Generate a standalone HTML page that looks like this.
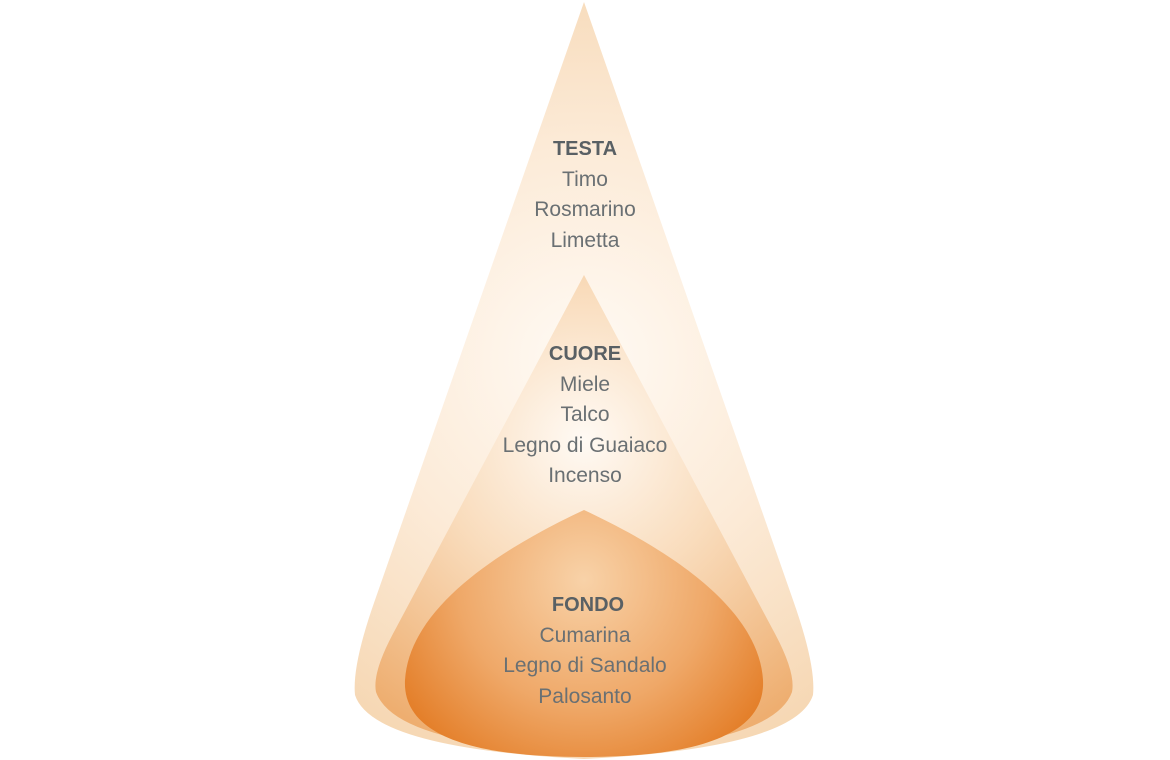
<!DOCTYPE html>
<html><head><meta charset="utf-8"><style>
html,body{margin:0;padding:0;background:#fff;}
svg{display:block;}
text{font-family:"Liberation Sans","DejaVu Sans",sans-serif;font-size:21px;fill:#6a7073;text-anchor:middle;}
.b{font-weight:bold;fill:#596064;font-size:20px;}
</style></head><body>
<svg width="1170" height="760" viewBox="0 0 1170 760" xmlns="http://www.w3.org/2000/svg">
<defs>
<radialGradient id="g1" cx="584" cy="360" r="420" gradientUnits="userSpaceOnUse">
<stop offset="0" stop-color="#fffaf4"/><stop offset="0.5" stop-color="#fcebd8"/><stop offset="1" stop-color="#f6d7b3"/>
</radialGradient>
<radialGradient id="g2" cx="584" cy="440" r="330" gradientUnits="userSpaceOnUse">
<stop offset="0" stop-color="#fffaf4"/><stop offset="0.45" stop-color="#f9dcbc"/><stop offset="1" stop-color="#eeae70"/>
</radialGradient>
<radialGradient id="g3" cx="584" cy="580" r="230" gradientUnits="userSpaceOnUse">
<stop offset="0" stop-color="#f8d2a8"/><stop offset="0.55" stop-color="#efa868"/><stop offset="1" stop-color="#e2781f"/>
</radialGradient>
</defs>
<path d="M584,2 L375,600 Q352,665 355,695 Q372,748 584,759 Q796,748 813,695 Q816,665 793,600 Z" fill="url(#g1)"/>
<path d="M584,275 L395,630 Q372,672 376,692 Q395,745 584,753 Q773,745 792,692 Q796,672 773,630 Z" fill="url(#g2)"/>
<path d="M584,510 C520,540 410,600 405,680 C402,738 480,757 584,757 C688,757 766,738 763,680 C758,600 648,540 584,510 Z" fill="url(#g3)"/>
<text class="b" x="585" y="155">TESTA</text>
<text x="585" y="186">Timo</text>
<text x="585" y="216">Rosmarino</text>
<text x="585" y="247">Limetta</text>
<text class="b" x="585" y="360">CUORE</text>
<text x="585" y="391">Miele</text>
<text x="585" y="421">Talco</text>
<text x="585" y="452">Legno di Guaiaco</text>
<text x="585" y="482">Incenso</text>
<text class="b" x="588" y="611">FONDO</text>
<text x="585" y="642">Cumarina</text>
<text x="585" y="672">Legno di Sandalo</text>
<text x="585" y="703">Palosanto</text>
</svg>
</body></html>
